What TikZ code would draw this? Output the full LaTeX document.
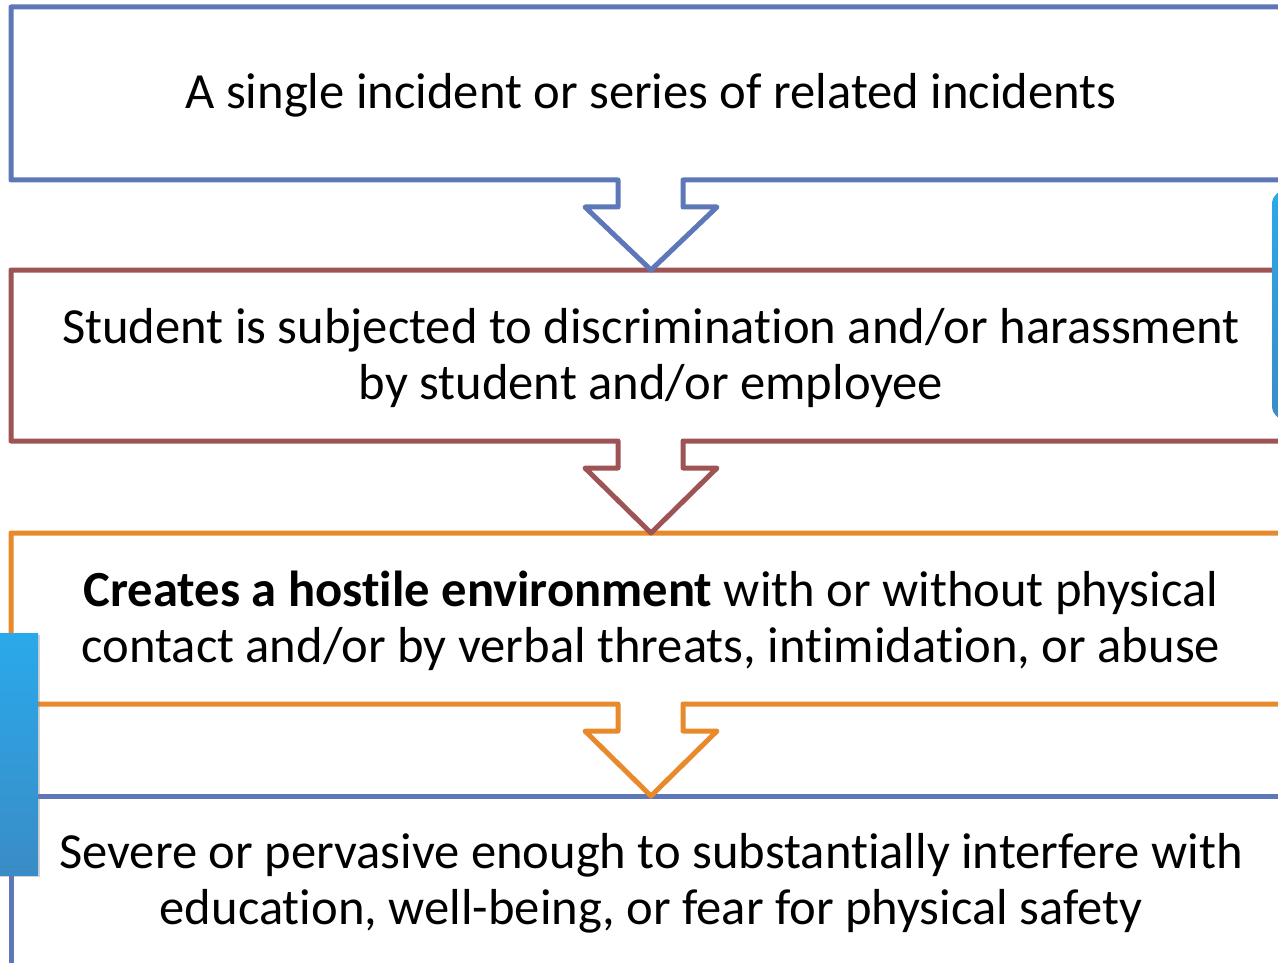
\documentclass[tikz,border=0pt]{standalone}
\usepackage{fontspec}
\setmainfont{Carlito}[Ligatures={NoCommon}]
\usetikzlibrary{shadows}
\definecolor{bblue}{HTML}{5E77B8}
\definecolor{bred}{HTML}{9E5454}
\definecolor{borange}{HTML}{E8892B}
\definecolor{gtop}{HTML}{2AA9EA}
\definecolor{gbot}{HTML}{3A8CC6}
\tikzset{
  outline/.style={line width=5pt, line join=round, draw=#1, fill=white},
  boxtext/.style={align=center, font=\fontsize{50.6}{56}\selectfont, inner sep=0pt},
  sidebar/.style={top color=gtop, bottom color=gbot, draw=none,
    drop shadow={shadow xshift=2pt, shadow yshift=-2pt, opacity=0.35}}
}
\begin{document}
\begin{tikzpicture}[x=1pt,y=-1pt]
\useasboundingbox (0,0) rectangle (1278,963);
% box 4
\draw[outline=bblue] (1300,796) -- (11,796) -- (11,1000) -- (1300,1000);
% box 3
\draw[outline=borange] (1300,704) -- (683,704) -- (683,731) -- (717,731) -- (651,796) -- (585,731) -- (618,731) -- (618,704) -- (11,704) -- (11,533) -- (1300,533);
% box 2
\draw[outline=bred] (1300,441) -- (683,441) -- (683,468) -- (717,468) -- (651,533) -- (585,468) -- (618,468) -- (618,441) -- (11,441) -- (11,270) -- (1300,270);
% box 1
\draw[outline=bblue] (1300,180) -- (683,180) -- (683,207) -- (717,207) -- (651,270) -- (585,207) -- (618,207) -- (618,180) -- (11,180) -- (11,7) -- (1300,7);
% side bars
\path[sidebar, rounded corners=14pt] (1272,190) rectangle (1320,420);
\path[sidebar] (-5,633) rectangle (38,875);
% texts
\node[boxtext] (t1) at (651,95) {A single incident or series of related incidents};
\node[boxtext] (t2) at (651,358) {Student is subjected to discrimination and/or harassment\\by student and/or employee};
\node[boxtext] (t3) at (651,621) {\textbf{Creates a hostile environment} with or without physical\\contact and/or by verbal threats, intimidation, or abuse};
\node[boxtext] (t4) at (651,883) {Severe or pervasive enough to substantially interfere with\\education, well-being, or fear for physical safety};
\end{tikzpicture}
\end{document}
